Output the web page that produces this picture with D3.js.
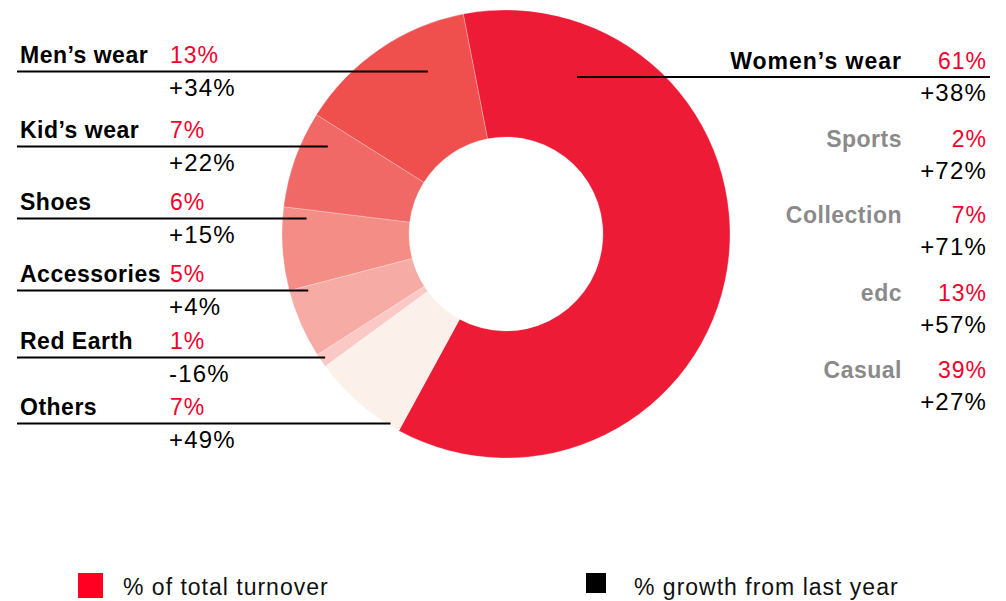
<!DOCTYPE html>
<html><head><meta charset="utf-8">
<script src="https://cdn.jsdelivr.net/npm/d3@7"></script>
<style>body{margin:0;background:#fff;} svg{display:block;} text{font-family:"Liberation Sans",Arial,Helvetica,sans-serif;}</style>
</head><body>
<svg id="c" width="1006" height="601"></svg>
<script>
// Data (clockwise from the Women's wear slice)
const categories = ["Women\u2019s wear","Others","Red Earth","Accessories","Shoes","Kid\u2019s wear","Men\u2019s wear"];
const shares = [61,7,1,5,6,7,13];
const growth = ["+38%","+49%","-16%","+4%","+15%","+22%","+34%"];
const sliceColors = ["#ED1B36","#FCF1EA","#FAC9C5","#F7ABA5","#F48D85","#F16967","#EF4F4D"];
// Women's wear breakdown
const subCategories = ["Sports","Collection","edc","Casual"];
const subShares = [2,7,13,39];
const subGrowth = ["+72%","+71%","+57%","+27%"];
// Legend
const legendLabels = ["% of total turnover","% growth from last year"];

const svg = d3.select("#c");
const cx = 506, cy = 234, rOuter = 224, rInner = 97;
const start = -11 * Math.PI / 180;

const pie = d3.pie().sort(null).value(d => d.v).startAngle(start).endAngle(start + 2*Math.PI);
const data = categories.map((c,i) => ({c, v: shares[i], g: growth[i], col: sliceColors[i]}));
const arcs = pie(data);
const arc = d3.arc().innerRadius(rInner).outerRadius(rOuter);

const g = svg.append("g").attr("transform", `translate(${cx},${cy})`);
g.selectAll("path").data(arcs).enter().append("path")
  .attr("d", arc).attr("fill", d => d.data.col)
  .attr("stroke", "#fff").attr("stroke-width", 0.25);

const pct = d3.format("d");
const red = "#F5002C";
const nameLS = 0.5;

// Left labels (top to bottom)
const leftOrder = ["Men\u2019s wear","Kid\u2019s wear","Shoes","Accessories","Red Earth","Others"];
const leftBaseline = [63, 138, 210, 282, 349, 415];
const leftInset = [76, 28, 24, 19, 6, 4];
leftOrder.forEach((name, k) => {
  const d = data.find(x => x.c === name);
  const yb = leftBaseline[k], yl = yb + 8.5;
  const dy = yl - cy;
  const xEdge = cx - Math.sqrt(rOuter*rOuter - dy*dy);
  svg.append("line").attr("x1", 17).attr("x2", xEdge + leftInset[k]).attr("y1", yl).attr("y2", yl)
    .attr("stroke", "#000").attr("stroke-width", 2.2);
  svg.append("text").attr("x", 20).attr("y", yb).text(name)
    .attr("font-size", 23).attr("font-weight", "bold").attr("letter-spacing", nameLS).attr("fill", "#000");
  svg.append("text").attr("x", 170).attr("y", yb).text(pct(d.v) + "%")
    .attr("font-size", 23).attr("letter-spacing", 1).attr("fill", red);
  svg.append("text").attr("x", 169).attr("y", yl + 24).text(d.g)
    .attr("font-size", 24).attr("letter-spacing", 1.2).attr("fill", "#000");
});

// Right: Women's wear
const w = data[0];
const wBase = 69, wLine = 77;
svg.append("line").attr("x1", 577).attr("x2", 990).attr("y1", wLine).attr("y2", wLine)
  .attr("stroke", "#000").attr("stroke-width", 2.2);
svg.append("text").attr("x", 902).attr("y", wBase).attr("text-anchor","end").text(w.c)
  .attr("font-size", 23).attr("font-weight","bold").attr("letter-spacing", 1).attr("fill","#000");
svg.append("text").attr("x", 987).attr("y", wBase).attr("text-anchor","end").text(pct(w.v)+"%")
  .attr("font-size", 23).attr("letter-spacing", 1).attr("fill", red);
svg.append("text").attr("x", 987).attr("y", wLine + 24).attr("text-anchor","end").text(w.g)
  .attr("font-size", 24).attr("letter-spacing", 1.2).attr("fill","#000");

const subBase = [147, 223, 301, 378];
subCategories.forEach((s, k) => {
  svg.append("text").attr("x", 902).attr("y", subBase[k]).attr("text-anchor","end").text(s)
    .attr("font-size", 23).attr("font-weight","bold").attr("letter-spacing", nameLS).attr("fill","#8a8a8a");
  svg.append("text").attr("x", 987).attr("y", subBase[k]).attr("text-anchor","end").text(pct(subShares[k])+"%")
    .attr("font-size", 23).attr("letter-spacing", 1).attr("fill", red);
  svg.append("text").attr("x", 987).attr("y", subBase[k] + 32).attr("text-anchor","end").text(subGrowth[k])
    .attr("font-size", 24).attr("letter-spacing", 1.2).attr("fill","#000");
});

// Legend
svg.append("rect").attr("x", 78).attr("y", 573).attr("width", 25).attr("height", 25).attr("fill", "#FF0022");
svg.append("text").attr("x", 123).attr("y", 595).text(legendLabels[0])
  .attr("font-size", 23).attr("letter-spacing", 1).attr("fill", "#111");
svg.append("rect").attr("x", 586).attr("y", 573).attr("width", 20).attr("height", 20).attr("fill", "#000");
svg.append("text").attr("x", 634).attr("y", 595).text(legendLabels[1])
  .attr("font-size", 23).attr("letter-spacing", 1).attr("fill", "#111");
</script>
</body></html>
